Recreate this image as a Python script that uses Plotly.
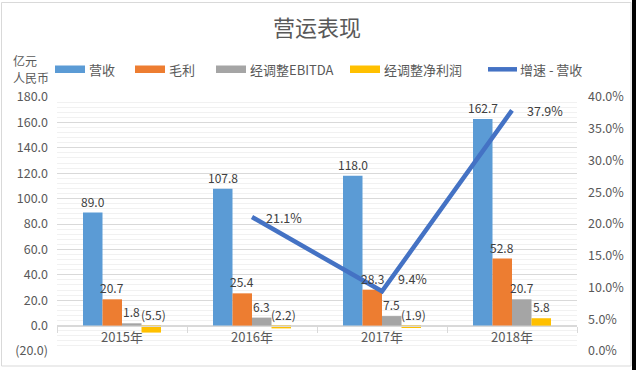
import plotly.graph_objects as go

# ---- data ----
categories = ["2015年", "2016年", "2017年", "2018年"]
series_names = ["营收", "毛利", "经调整EBITDA", "经调整净利润"]
revenue = [89.0, 107.8, 118.0, 162.7]
gross_profit = [20.7, 25.4, 28.3, 52.8]
adj_ebitda = [1.8, 6.3, 7.5, 20.7]
adj_net_profit = [-5.5, -2.2, -1.9, 5.8]
growth_name = "增速 - 营收"
growth_cats = ["2016年", "2017年", "2018年"]
growth_pct = [21.1, 9.4, 37.9]
left_tick_vals = [-20, 0, 20, 40, 60, 80, 100, 120, 140, 160, 180]
left_tick_text = ["(20.0)", "0.0", "20.0", "40.0", "60.0", "80.0", "100.0",
                  "120.0", "140.0", "160.0", "180.0"]
right_tick_vals = [0, 5, 10, 15, 20, 25, 30, 35, 40]
right_tick_text = ["0.0%", "5.0%", "10.0%", "15.0%", "20.0%", "25.0%", "30.0%",
                   "35.0%", "40.0%"]
unit_lines = ["亿元", "人民币"]
title_text = "营运表现"

# ---- style ----
colors = ["#5B9BD5", "#ED7D31", "#A5A5A5", "#FFC000"]
line_color = "#4472C4"
FONT = "Noto Sans CJK SC, Noto Sans, sans-serif"
TXT = "#595959"
LBL = "#404040"
W, H = 636, 370
L, R, T, B = 57, 59, 97, 19
PW, PH = W - L - R, H - T - B


def px_x(x):
    return (x - L) / PW


def px_y(y):
    return (H - B - y) / PH


all_series = [revenue, gross_profit, adj_ebitda, adj_net_profit]

fig = go.Figure()
for name, vals, c in zip(series_names, all_series, colors):
    fig.add_trace(go.Bar(x=categories, y=vals, name=name, marker_color=c,
                         marker_line_width=0, showlegend=False))

fig.add_trace(go.Scatter(x=growth_cats, y=growth_pct, name=growth_name, yaxis="y2",
                         mode="lines", line=dict(color=line_color, width=4.5),
                         showlegend=False))

annotations = []
bar_px = PW / len(categories) * 0.6 / len(series_names)
for i, vals in enumerate(all_series):
    shift = (i - (len(series_names) - 1) / 2) * bar_px
    for cat, v in zip(categories, vals):
        txt = f"{v:.1f}" if v >= 0 else f"({abs(v):.1f})"
        annotations.append(dict(x=cat, y=max(v, 0), xref="x", yref="y", text=txt,
                                showarrow=False, xanchor="center", yanchor="bottom",
                                xshift=shift + (2 if v < 0 else 0), yshift=1,
                                font=dict(family=FONT, size=12, color=LBL)))

line_label_shift = [(12, 0), (14, 13), (13, 0)]
for cat, v, (dx, dy) in zip(growth_cats, growth_pct, line_label_shift):
    annotations.append(dict(x=cat, y=v, xref="x", yref="y2", text=f"{v:.1f}%",
                            showarrow=False, xanchor="left", yanchor="middle",
                            xshift=dx, yshift=dy,
                            font=dict(family=FONT, size=12.5, color=LBL)))

# unit label (two lines)
for txt, yy in zip(unit_lines, [60, 78]):
    annotations.append(dict(x=px_x(11), y=px_y(yy), xref="paper", yref="paper",
                            text=txt, showarrow=False, xanchor="left",
                            yanchor="middle", align="left",
                            font=dict(family=FONT, size=12, color=TXT)))

shapes = [
    dict(type="rect", xref="paper", yref="paper", x0=px_x(0), x1=px_x(632),
         y0=px_y(370), y1=px_y(0), fillcolor="white", line_width=0, layer="below"),
    dict(type="rect", xref="paper", yref="paper", x0=px_x(1.5), x1=px_x(631),
         y0=px_y(366), y1=px_y(2.5), fillcolor="rgba(0,0,0,0)",
         line=dict(color="#d9d9d9", width=1), layer="below"),
]

# custom legend
legend_items = series_names + [growth_name]
legend_x = [55, 135, 216, 350, 486]
for k, (name, lx) in enumerate(zip(legend_items, legend_x)):
    if k < len(series_names):
        shapes.append(dict(type="rect", xref="paper", yref="paper",
                           x0=px_x(lx), x1=px_x(lx + 30), y0=px_y(73), y1=px_y(65.5),
                           fillcolor=colors[k], line_width=0))
    else:
        shapes.append(dict(type="line", xref="paper", yref="paper",
                           x0=px_x(lx + 2), x1=px_x(lx + 31), y0=px_y(69.3), y1=px_y(69.3),
                           line=dict(color=line_color, width=4.5)))
    annotations.append(dict(x=px_x(lx + 32), y=px_y(69), xref="paper", yref="paper",
                            text=name, showarrow=False, xanchor="left", yanchor="middle",
                            font=dict(family=FONT, size=13, color=TXT)))

fig.update_layout(
    width=W, height=H,
    margin=dict(l=L, r=R, t=T, b=B, autoexpand=False),
    paper_bgcolor="black", plot_bgcolor="rgba(0,0,0,0)",
    barmode="group", bargap=0.4, bargroupgap=0,
    title=dict(text=title_text, x=0.5, xanchor="center", xref="paper",
               y=1 - 28 / H, yanchor="middle", yref="container",
               font=dict(family=FONT, size=22, color=TXT)),
    font=dict(family=FONT, size=13, color=TXT),
    showlegend=False,
    xaxis=dict(type="category", anchor="free", position=20 / 200, automargin=False,
               showline=True, linecolor="#d9d9d9", linewidth=1,
               ticks="outside", tickson="boundaries", ticklen=6, tickcolor="#d9d9d9",
               showgrid=False, tickfont=dict(family=FONT, size=13, color=TXT)),
    yaxis=dict(range=[-20, 180], tickvals=left_tick_vals, ticktext=left_tick_text,
               automargin=False,
               showgrid=True, gridcolor="#d9d9d9", gridwidth=1, zeroline=False,
               ticks="", ticklabelstandoff=8,
               minor=dict(dtick=4, tick0=-20, showgrid=True, gridcolor="#f1f1f1"),
               tickfont=dict(family=FONT, size=12.5, color=TXT)),
    yaxis2=dict(range=[0, 40], overlaying="y", side="right", tickvals=right_tick_vals,
                ticktext=right_tick_text, automargin=False,
                showgrid=False, zeroline=False,
                ticks="", ticklabelstandoff=10,
                tickfont=dict(family=FONT, size=12.5, color=TXT)),
    annotations=annotations,
    shapes=shapes,
)

fig.write_html("out.html", config={"displayModeBar": False},
               post_script="document.body.style.margin='0';document.body.style.overflow='hidden';")
